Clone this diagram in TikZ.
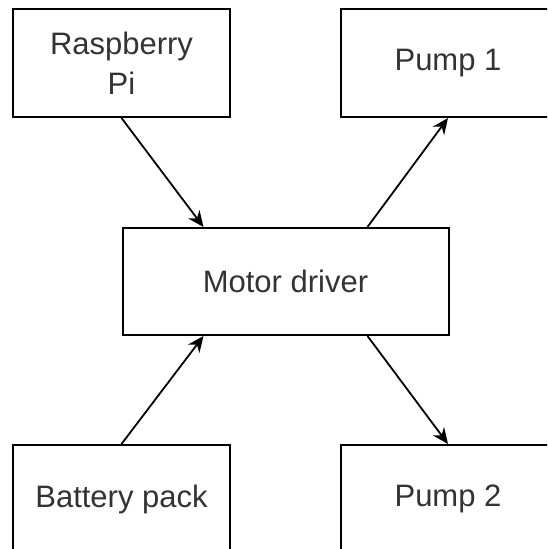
\documentclass[tikz,border=0pt]{standalone}
\usepackage{fontspec}
\setmainfont{Liberation Sans}
\usepackage{tikz}
\usetikzlibrary{positioning,arrows.meta,calc}

\begin{document}
\begin{tikzpicture}[
    x=1pt, y=1pt,
    node distance=109pt and 109pt,
    block/.style={draw, line width=2pt, align=center, minimum width=217pt, minimum height=108pt, inner sep=0pt, text=black!80, font=\fontsize{31}{40}\selectfont},
    arrow/.style={-{Stealth[length=16pt,width=14pt]}, line width=1.8pt}
]
\useasboundingbox (0,0) rectangle (547,-549);
\clip (0,0) rectangle (547,-549);

\node[block] (pi) at (121.5,-63) {Raspberry\\Pi};
\node[block, minimum width=214pt, right=109pt of pi] (pump1) {Pump 1};
\node[block, minimum width=326pt, minimum height=107pt, below right=109pt and 0pt of pi.south] (motor) {Motor driver};
\node[block, below=326pt of pi] (battery) {Battery pack};
\node[block, minimum width=214pt, below=326pt of pump1] (pump2) {Pump 2};

\draw[arrow] (pi.south) -- ($(motor.north west)!0.25!(motor.north east)$);
\draw[arrow] ($(motor.north west)!0.75!(motor.north east)$) -- (pump1.south);
\draw[arrow] (battery.north) -- ($(motor.south west)!0.25!(motor.south east)$);
\draw[arrow] ($(motor.south west)!0.75!(motor.south east)$) -- (pump2.north);

\end{tikzpicture}
\end{document}
